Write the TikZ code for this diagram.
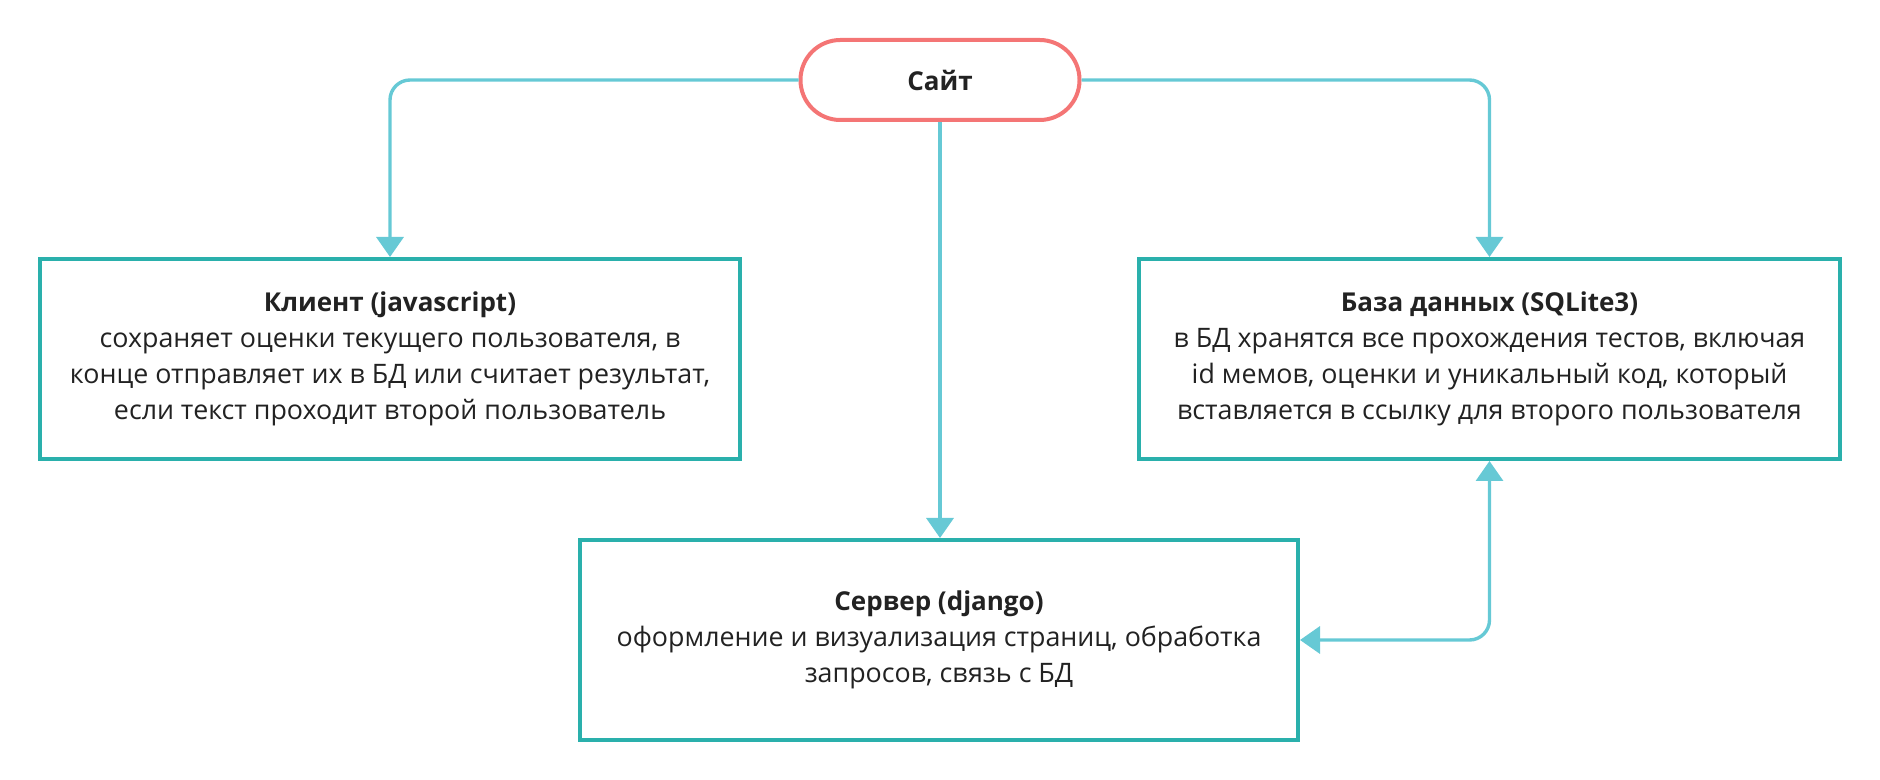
\documentclass[tikz,border=0pt]{standalone}
\usepackage{fontspec}
\setmainfont{Open Sans}
\usetikzlibrary{arrows.meta}
\definecolor{pillc}{HTML}{F47575}
\definecolor{boxc}{HTML}{2AB0AC}
\definecolor{arrc}{HTML}{66C9D5}
\definecolor{txtc}{HTML}{222222}
\newcommand{\ttl}[1]{{\fontsize{13}{18}\selectfont\bfseries #1}}
\begin{document}
\begin{tikzpicture}[x=0.5pt,y=-0.5pt,
  box/.style={draw=boxc, line width=2pt, fill=white, minimum height=100pt,
    align=center, font=\fontsize{13.4}{18}\selectfont, text=txtc, inner sep=0pt},
  pill/.style={draw=pillc, line width=2pt, fill=white, minimum width=139.5pt,
    minimum height=40pt, rounded corners=19.9pt, font=\fontsize{13}{18}\selectfont\bfseries, text=txtc, inner sep=0pt},
  conn/.style={draw=arrc, line width=1.7pt, rounded corners=10pt,
    -{Triangle[width=13.5pt,length=10pt]}},
  conn2/.style={draw=arrc, line width=1.7pt, rounded corners=10pt,
    {Triangle[width=13.5pt,length=10pt]}-{Triangle[width=13.5pt,length=10pt]}}
]
\useasboundingbox (0,0) rectangle (1880,780);
\node[pill] (site) at (940,80) {Сайт};
\node[box, minimum width=350pt] (client) at (390,359) {\ttl{Клиент (javascript)}\\
сохраняет оценки текущего пользователя, в\\
конце отправляет их в БД или считает результат,\\
если текст проходит второй пользователь};
\node[box, minimum width=350.5pt] (db) at (1489.5,359) {\ttl{База данных (SQLite3)}\\
в БД хранятся все прохождения тестов, включая\\
id мемов, оценки и уникальный код, который\\
вставляется в ссылку для второго пользователя};
\node[box, minimum width=359pt] (server) at (939,640) {\ttl{Сервер (django)}\\
оформление и визуализация страниц, обработка\\
запросов, связь с БД};
\draw[conn] (site.west) -| (client.north);
\draw[conn] (site.east) -| (db.north);
\draw[conn] (site.south) -- (site.south |- server.north);
\draw[conn2] (db.south) |- (server.east);
\end{tikzpicture}
\end{document}
